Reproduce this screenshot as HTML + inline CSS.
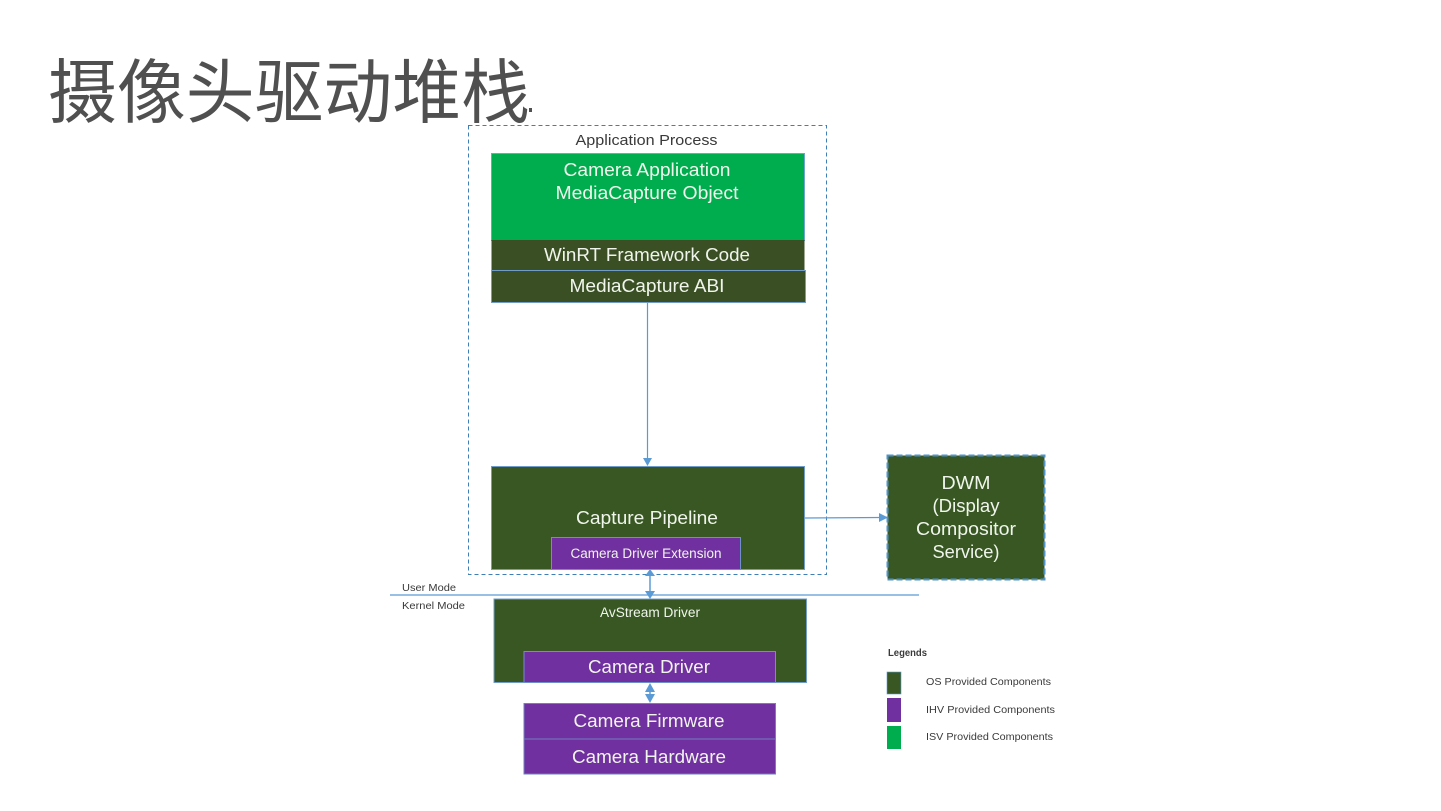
<!DOCTYPE html>
<html lang="zh">
<head>
<meta charset="utf-8">
<title>摄像头驱动堆栈</title>
<style>
html,body{margin:0;padding:0;background:#fff;width:1441px;height:811px;overflow:hidden}
svg{display:block;position:absolute;left:0;top:0}
text{font-family:"Liberation Sans","Noto Sans CJK SC",sans-serif}
.w{fill:#f0f5ec;text-anchor:middle}
.d{fill:#3a3a3a}
.b{filter:blur(0.35px)}
</style>
</head>
<body>
<svg width="1441" height="811" viewBox="0 0 1441 811" xmlns="http://www.w3.org/2000/svg">
<text x="48" y="117" font-size="70" fill="#505050" textLength="482" lengthAdjust="spacingAndGlyphs" style='font-family:"WenQuanYi Zen Hei","Noto Sans CJK SC",sans-serif;font-weight:400'>摄像头驱动堆栈</text>
<rect x="529" y="108" width="3" height="4" fill="#505050"/>

<g class="b">
<rect x="468.5" y="125.5" width="358" height="449" fill="none" stroke="#3f7fb8" stroke-width="1" stroke-dasharray="4 3"/>
<text x="646.5" y="145" font-size="14.5" class="d" text-anchor="middle" textLength="142" lengthAdjust="spacingAndGlyphs">Application Process</text>

<rect x="491.5" y="153.5" width="313" height="87" fill="#00ad4e" stroke="#6fa3d0" stroke-width="1"/>
<text x="647" y="176" font-size="18" class="w" textLength="167" lengthAdjust="spacingAndGlyphs">Camera Application</text>
<text x="647" y="199" font-size="18" class="w" textLength="183" lengthAdjust="spacingAndGlyphs">MediaCapture Object</text>

<rect x="491.5" y="240" width="313" height="31" fill="#3b4f25"/>
<text x="647" y="261" font-size="18" class="w" textLength="206" lengthAdjust="spacingAndGlyphs">WinRT Framework Code</text>
<rect x="491.5" y="270.5" width="314" height="32" fill="#3b4f25" stroke="#6f9cc8" stroke-width="1"/>
<text x="647" y="292" font-size="18" class="w" textLength="155" lengthAdjust="spacingAndGlyphs">MediaCapture ABI</text>

<line x1="647.5" y1="303" x2="647.5" y2="460" stroke="#5b9bd5" stroke-width="1.2"/>
<polygon points="643,458 652,458 647.5,466" fill="#5b9bd5"/>

<rect x="491.5" y="466.5" width="313" height="103" fill="#385723" stroke="#6f9cc8" stroke-width="1"/>
<text x="647" y="524" font-size="18" class="w" textLength="142" lengthAdjust="spacingAndGlyphs">Capture Pipeline</text>
<rect x="551.5" y="537.5" width="189" height="32" fill="#7030a0" stroke="#6f8fc8" stroke-width="1"/>
<text x="646" y="558" font-size="13.5" class="w" textLength="151" lengthAdjust="spacingAndGlyphs">Camera Driver Extension</text>

<line x1="805" y1="518" x2="881" y2="517.5" stroke="#5b9bd5" stroke-width="1.3"/>
<polygon points="879,513 888,517.5 879,522" fill="#5b9bd5"/>

<rect x="887.5" y="455.5" width="157" height="124" fill="#385723" stroke="#4f93c8" stroke-width="2" stroke-dasharray="6 3"/>
<text x="966" y="489" font-size="18" class="w" textLength="49" lengthAdjust="spacingAndGlyphs">DWM</text>
<text x="966" y="512" font-size="18" class="w" textLength="67" lengthAdjust="spacingAndGlyphs">(Display</text>
<text x="966" y="535" font-size="18" class="w" textLength="100" lengthAdjust="spacingAndGlyphs">Compositor</text>
<text x="966" y="558" font-size="18" class="w" textLength="67" lengthAdjust="spacingAndGlyphs">Service)</text>

<line x1="390" y1="595" x2="919" y2="595" stroke="#5b9bd5" stroke-width="1.3"/>
<text x="402" y="591" font-size="10.5" class="d" textLength="54" lengthAdjust="spacingAndGlyphs">User Mode</text>
<text x="402" y="609" font-size="10.5" class="d" textLength="63" lengthAdjust="spacingAndGlyphs">Kernel Mode</text>

<line x1="650" y1="572" x2="650" y2="594" stroke="#5b9bd5" stroke-width="1.5"/>
<polygon points="650,569 655,576 645,576" fill="#5b9bd5"/>
<polygon points="645,591 655,591 650,599" fill="#5b9bd5"/>

<rect x="494" y="599" width="312.5" height="83.5" fill="#385723" stroke="#6f9cc8" stroke-width="1"/>
<text x="650" y="617" font-size="13.5" class="w" textLength="100" lengthAdjust="spacingAndGlyphs">AvStream Driver</text>
<rect x="524" y="651.5" width="251.5" height="31" fill="#7030a0" stroke="#6f8fc8" stroke-width="1"/>
<text x="649" y="673" font-size="18" class="w" textLength="122" lengthAdjust="spacingAndGlyphs">Camera Driver</text>

<line x1="650" y1="686" x2="650" y2="700" stroke="#5b9bd5" stroke-width="1.5"/>
<polygon points="650,683 655,692 645,692" fill="#5b9bd5"/>
<polygon points="645,694 655,694 650,703" fill="#5b9bd5"/>

<rect x="524" y="703.5" width="251.5" height="35.5" fill="#7030a0" stroke="#6f7fc0" stroke-width="1"/>
<text x="649" y="727" font-size="18" class="w" textLength="151" lengthAdjust="spacingAndGlyphs">Camera Firmware</text>
<rect x="524" y="739" width="251.5" height="35" fill="#7030a0" stroke="#6f7fc0" stroke-width="1"/>
<text x="649" y="763" font-size="18" class="w" textLength="154" lengthAdjust="spacingAndGlyphs">Camera Hardware</text>

<text x="888" y="656" font-size="10" font-weight="700" class="d" textLength="39" lengthAdjust="spacingAndGlyphs">Legends</text>
<rect x="887" y="672" width="14" height="22" fill="#385723" stroke="#5b9bd5" stroke-width="0.6"/>
<rect x="887" y="698" width="14" height="24" fill="#7030a0"/>
<rect x="887" y="726" width="14" height="23" fill="#00ad4e"/>
<text x="926" y="685" font-size="10.5" class="d" textLength="125" lengthAdjust="spacingAndGlyphs">OS Provided Components</text>
<text x="926" y="713" font-size="10.5" class="d" textLength="129" lengthAdjust="spacingAndGlyphs">IHV Provided Components</text>
<text x="926" y="740" font-size="10.5" class="d" textLength="127" lengthAdjust="spacingAndGlyphs">ISV Provided Components</text>
</g>
</svg>
</body>
</html>
